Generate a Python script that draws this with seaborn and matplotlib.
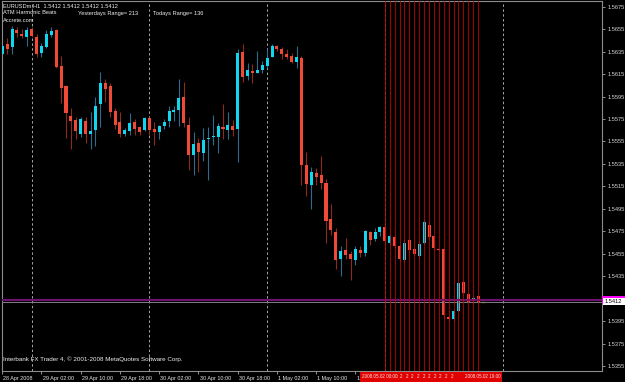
import numpy as np
import pandas as pd
import matplotlib
matplotlib.use("Agg")
import matplotlib.pyplot as plt
import matplotlib.transforms as mtransforms
import matplotlib.font_manager as fm
from matplotlib.patches import Rectangle
import seaborn as sns

# EURUSDm H1 bars, 28 Apr 2008 18:00 .. 2 May 2008 20:00
bar_open = [
    1.5633, 1.5642, 1.5639, 1.5654, 1.5651, 1.5648, 1.5655, 1.5648, 1.5634, 1.5639,
    1.5650, 1.5654, 1.5622, 1.5604, 1.5578, 1.5574, 1.5562, 1.5573, 1.5562, 1.5565,
    1.5588, 1.5607, 1.5604, 1.5582, 1.5572, 1.5562, 1.5564, 1.5572, 1.5568, 1.5565,
    1.5576, 1.5566, 1.5563, 1.5569, 1.5573, 1.5581, 1.5583, 1.5595, 1.5570, 1.5543,
    1.5554, 1.5545, 1.5557, 1.5559, 1.5559, 1.5568, 1.5565, 1.5569, 1.5566, 1.5635,
    1.5613, 1.5618, 1.5616, 1.5619, 1.5622, 1.5630, 1.5640, 1.5637, 1.5633, 1.5631,
    1.5626, 1.5629, 1.5534, 1.5516, 1.5527, 1.5525, 1.5518, 1.5486, 1.5474, 1.5450,
    1.5458, 1.5455, 1.5449, 1.5458, 1.5456, 1.5474, 1.5468, 1.5474, 1.5479, 1.5465,
    1.5470, 1.5462, 1.5449, 1.5467, 1.5459, 1.5453, 1.5465, 1.5481, 1.5471, 1.5459,
    1.5459, 1.5399, 1.5397, 1.5404, 1.5430, 1.5419, 1.5413, 1.5417, 1.5412,
]
bar_high = [
    1.5642, 1.5647, 1.5658, 1.5657, 1.5655, 1.5657, 1.5657, 1.5651, 1.5643, 1.5654,
    1.5657, 1.5655, 1.5631, 1.5605, 1.5585, 1.5577, 1.5577, 1.5577, 1.5581, 1.5595,
    1.5617, 1.5611, 1.5607, 1.5585, 1.5581, 1.5567, 1.5580, 1.5575, 1.5569, 1.5577,
    1.5577, 1.5572, 1.5570, 1.5575, 1.5587, 1.5587, 1.5611, 1.5608, 1.5577, 1.5563,
    1.5558, 1.5567, 1.5568, 1.5579, 1.5571, 1.5588, 1.5581, 1.5574, 1.5637, 1.5642,
    1.5625, 1.5624, 1.5636, 1.5627, 1.5637, 1.5642, 1.5641, 1.5639, 1.5637, 1.5634,
    1.5640, 1.5631, 1.5546, 1.5532, 1.5531, 1.5542, 1.5522, 1.5499, 1.5478, 1.5462,
    1.5469, 1.5457, 1.5462, 1.5462, 1.5476, 1.5475, 1.5478, 1.5480, 1.5480, 1.5473,
    1.5472, 1.5464, 1.5467, 1.5469, 1.5461, 1.5466, 1.5485, 1.5483, 1.5472, 1.5460,
    1.5460, 1.5400, 1.5405, 1.5430, 1.5431, 1.5420, 1.5417, 1.5418, 1.5412,
]
bar_low = [
    1.5621, 1.5633, 1.5633, 1.5648, 1.5647, 1.5640, 1.5648, 1.5630, 1.5630, 1.5638,
    1.5648, 1.5620, 1.5589, 1.5558, 1.5548, 1.5557, 1.5559, 1.5554, 1.5548, 1.5551,
    1.5568, 1.5590, 1.5577, 1.5566, 1.5559, 1.5560, 1.5561, 1.5561, 1.5561, 1.5564,
    1.5561, 1.5552, 1.5557, 1.5566, 1.5568, 1.5573, 1.5569, 1.5568, 1.5530, 1.5525,
    1.5528, 1.5538, 1.5521, 1.5552, 1.5545, 1.5557, 1.5557, 1.5560, 1.5537, 1.5608,
    1.5610, 1.5607, 1.5616, 1.5616, 1.5620, 1.5630, 1.5636, 1.5628, 1.5628, 1.5625,
    1.5620, 1.5516, 1.5506, 1.5495, 1.5516, 1.5513, 1.5465, 1.5472, 1.5441, 1.5435,
    1.5450, 1.5432, 1.5445, 1.5452, 1.5453, 1.5463, 1.5466, 1.5471, 1.5465, 1.5463,
    1.5460, 1.5448, 1.5447, 1.5456, 1.5453, 1.5451, 1.5463, 1.5468, 1.5458, 1.5457,
    1.5398, 1.5395, 1.5395, 1.5403, 1.5419, 1.5411, 1.5412, 1.5411, 1.5412,
]
bar_close = [
    1.5640, 1.5637, 1.5655, 1.5652, 1.5649, 1.5654, 1.5649, 1.5633, 1.5640, 1.5651,
    1.5653, 1.5621, 1.5603, 1.5580, 1.5573, 1.5564, 1.5575, 1.5562, 1.5564, 1.5587,
    1.5607, 1.5602, 1.5581, 1.5570, 1.5562, 1.5565, 1.5571, 1.5566, 1.5563, 1.5576,
    1.5565, 1.5563, 1.5569, 1.5572, 1.5582, 1.5583, 1.5594, 1.5571, 1.5543, 1.5553,
    1.5546, 1.5556, 1.5558, 1.5560, 1.5569, 1.5566, 1.5570, 1.5565, 1.5634, 1.5612,
    1.5619, 1.5616, 1.5619, 1.5623, 1.5629, 1.5640, 1.5637, 1.5633, 1.5630, 1.5626,
    1.5630, 1.5534, 1.5517, 1.5528, 1.5523, 1.5518, 1.5484, 1.5476, 1.5449, 1.5457,
    1.5454, 1.5450, 1.5459, 1.5456, 1.5475, 1.5467, 1.5474, 1.5479, 1.5466, 1.5471,
    1.5462, 1.5450, 1.5465, 1.5458, 1.5455, 1.5464, 1.5483, 1.5470, 1.5460, 1.5458,
    1.5400, 1.5397, 1.5404, 1.5429, 1.5420, 1.5412, 1.5416, 1.5412, 1.5412,
]

price_ticks = [1.5355, 1.5375, 1.5395, 1.5415, 1.5435, 1.5455, 1.5475, 1.5495, 1.5515,
               1.5535, 1.5555, 1.5575, 1.5595, 1.5615, 1.5635, 1.5655, 1.5675]
time_ticks = [0, 8, 16, 24, 32, 40, 48, 56, 64, 72, 80, 88, 96]
time_labels = ["28 Apr 2008", "29 Apr 02:00", "29 Apr 10:00", "29 Apr 18:00",
               "30 Apr 02:00", "30 Apr 10:00", "30 Apr 18:00", "1 May 02:00",
               "1 May 10:00", "1 May 18:00", "", "", ""]
day_separators = [6, 30, 54, 78, 102]
marked_bars = [78, 79, 80, 81, 82, 83, 84, 85, 86, 87,
               88, 89, 90, 91, 92, 93, 94, 95, 96, 97]
marked_first = "2008.05.02 00:00"
marked_last = "2008.05.02 19:00"
bid_price = 1.5412
user_line_price = 1.5414

BULL = "#12d6ee"
BEAR = "#ef4a38"
BULL_WICK = "#2c6c8c"
BEAR_WICK = "#8c2a1c"


def pick_font():
    """Narrow font if there is one, otherwise plain Liberation Sans a bit smaller."""
    names = {f.name for f in fm.fontManager.ttflist}
    if "Liberation Sans Narrow" in names:
        return "Liberation Sans Narrow", 1.0
    return "Liberation Sans", 0.82


def main():
    sns.set_theme(style="dark", rc={"axes.facecolor": "black",
                                    "figure.facecolor": "black",
                                    "axes.grid": False})
    family, k = pick_font()
    plt.rcParams["font.family"] = [family, "DejaVu Sans"]
    fs = 5.0 * k

    df = pd.DataFrame({"open": bar_open, "high": bar_high,
                       "low": bar_low, "close": bar_close})
    df["bar"] = np.arange(len(df))
    df["kind"] = np.where(df["close"] > df["open"], "bull",
                          np.where(df["close"] < df["open"], "bear", "doji"))

    fig = plt.figure(figsize=(6.25, 3.82), dpi=100, facecolor="black")
    ax = fig.add_axes([2 / 625, 10.7 / 382, 599.7 / 625, 370.3 / 382])
    ax.set_facecolor("black")

    # day separators
    for b in day_separators:
        ax.axvline(b, color="#a8a8a8", lw=0.7, ls=(0, (2.5, 2.5)), zorder=1)

    bulls = df[df["kind"] == "bull"]
    bears = df[df["kind"] == "bear"]
    dojis = df[df["kind"] == "doji"]

    ax.vlines(bulls["bar"], bulls["low"], bulls["high"], color=BULL_WICK, lw=0.8, zorder=2)
    ax.vlines(bears["bar"], bears["low"], bears["high"], color=BEAR_WICK, lw=0.8, zorder=2)
    ax.bar(bulls["bar"], bulls["close"] - bulls["open"], bottom=bulls["open"],
           width=0.62, color=BULL, linewidth=0, zorder=3)
    ax.bar(bears["bar"], bears["open"] - bears["close"], bottom=bears["close"],
           width=0.62, color=BEAR, linewidth=0, zorder=3)
    ax.hlines(dojis["close"], dojis["bar"] - 0.35, dojis["bar"] + 0.35,
              color="#b8b800", lw=0.9, zorder=3)

    # vertical markers
    for b in marked_bars:
        ax.axvline(b, color="#c80000", lw=0.75, alpha=0.8, zorder=5)

    ax.axhline(user_line_price, color="#6c1470", lw=1.6, zorder=4)
    ax.axhline(bid_price, color="#808080", lw=0.7, zorder=4)

    ax.set_xlim(-0.05, 122.2)
    ax.set_ylim(1.53503, 1.56801)

    ax.yaxis.tick_right()
    ax.set_yticks(price_ticks)
    # the 1.5415 label sits under the bid price box
    ax.set_yticklabels(["" if p == 1.5415 else f"{p:.4f}" for p in price_ticks])
    ax.set_xticks(time_ticks)
    ax.set_xticklabels(time_labels)
    ax.tick_params(axis="y", which="both", right=True, left=False, length=2.5, width=0.7,
                   color="#909090", labelcolor="#d8d8d8", labelsize=fs * 0.98, pad=1.5)
    ax.tick_params(axis="x", which="both", bottom=True, length=2.5, width=0.7,
                   color="#909090", labelcolor="#e8e8e8", labelsize=fs * 0.94, pad=0.8)
    shift = mtransforms.ScaledTranslation(1.2 / 100, 0, fig.dpi_scale_trans)
    # labels under the red time box are hidden by it, clip them at its left edge
    clip = mtransforms.Bbox.from_extents(0, 0, 360, 382)
    for lab in ax.get_xticklabels():
        lab.set_horizontalalignment("left")
        lab.set_transform(lab.get_transform() + shift)
        lab.set_clip_box(mtransforms.TransformedBbox(clip, mtransforms.IdentityTransform()))
        lab.set_clip_on(True)
    ax.set_xlabel("")
    ax.set_ylabel("")
    for sp in ax.spines.values():
        sp.set_visible(True)
        sp.set_color("#8c8c8c")
        sp.set_linewidth(0.8)

    # price labels on the right scale
    blend = mtransforms.blended_transform_factory(fig.transFigure, ax.transData)
    fig.add_artist(Rectangle((602 / 625, 1.5410), 23 / 625, 0.00076, transform=blend,
                             facecolor="#ff00ff", edgecolor="none", zorder=10))
    fig.add_artist(Rectangle((603 / 625, 1.54093), 22 / 625, 0.00067, transform=blend,
                             facecolor="white", edgecolor="none", zorder=11))
    fig.text(605 / 625, 1.54127, "1.5412", transform=blend, color="black",
             fontsize=fs * 0.98, va="center", ha="left", zorder=12)

    # time labels of the marked bars (they overprint each other in the terminal)
    fig.add_artist(Rectangle((360 / 625, 0), 142 / 625, 10.5 / 382,
                             transform=fig.transFigure, facecolor="#e00000",
                             edgecolor="none", zorder=10))
    ty = 1 - 377 / 382
    tcol = "#ffe4e4"
    tfs = fs * 0.82
    fig.text(361.5 / 625, ty, marked_first, color=tcol, fontsize=tfs,
             va="center", ha="left", zorder=12)
    fig.text(396.5 / 625, ty, ":", color=tcol, fontsize=tfs, va="center", ha="left", zorder=12)
    for j in range(10):
        fig.text((400 + 5.6 * j) / 625, ty, "2", color=tcol, fontsize=tfs,
                 va="center", ha="left", zorder=12)
    fig.text(501 / 625, ty, marked_last, color=tcol, fontsize=tfs,
             va="center", ha="right", zorder=12)

    # chart captions
    white = "#f0f0f0"
    fig.text(3 / 625, 1 - 6 / 382, "EURUSDm,H1  1.5412 1.5412 1.5412 1.5412",
             color=white, fontsize=fs, va="center")
    fig.text(3 / 625, 1 - 13 / 382, "ATM Harmonic Beats", color=white, fontsize=fs, va="center")
    fig.text(78 / 625, 1 - 13 / 382, "Yesterdays Range= 213", color=white, fontsize=fs, va="center")
    fig.text(153 / 625, 1 - 13 / 382, "Todays Range= 136", color=white, fontsize=fs, va="center")
    fig.text(3 / 625, 1 - 20 / 382, "Accrete.com", color=white, fontsize=fs, va="center")
    fig.text(3 / 625, 1 - 359 / 382,
             "Interbank FX Trader 4, \u00a9 2001-2008 MetaQuotes Software Corp.",
             color=white, fontsize=fs * 1.1, va="center")

    fig.savefig("out.png", dpi=100, facecolor="black")


if __name__ == "__main__":
    main()
